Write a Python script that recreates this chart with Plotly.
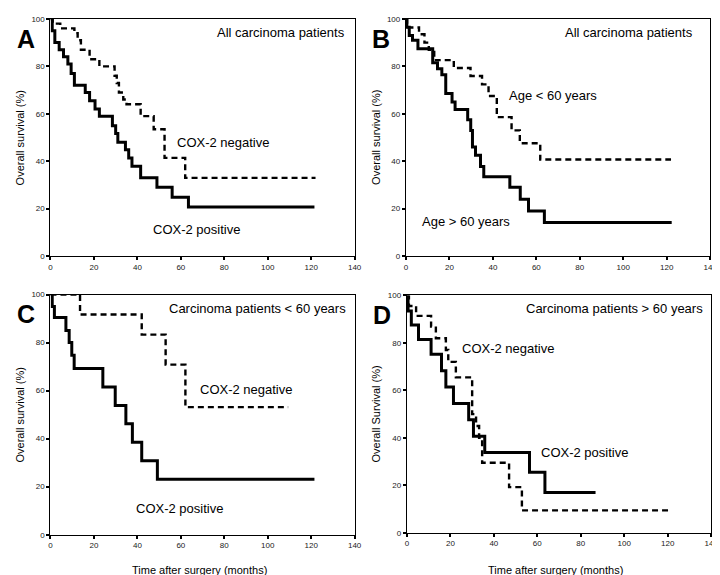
import plotly.graph_objects as go

# ---------------- data (months, overall survival %) ----------------
A_neg_t = [0, 1, 4.5, 11, 12.5, 14, 18, 22.5, 29.5, 30.5, 31.5, 33.5, 35, 41.5, 47.5, 52.5, 62, 122]
A_neg_s = [100, 98, 96, 94, 91, 87, 83, 80, 76, 73, 69, 66, 64, 59, 53.5, 41.4, 33, 33]
A_pos_t = [0, 0.8, 2, 4, 6, 8, 9.5, 11, 16, 18, 20.5, 22.5, 28.5, 30, 31, 34.5, 36, 37.5, 41.5, 49, 56, 63.5, 121.5]
A_pos_s = [100, 95, 90, 87, 84, 81, 77, 72, 69, 65.5, 62, 59, 55, 51.7, 48, 44.8, 41.4, 37.9, 33, 29, 24.8, 20.7, 20.7]

B_young_t = [0, 0.5, 6, 8.5, 10.5, 13, 22, 29.7, 35, 38, 41.8, 48.6, 52.4, 61.8, 122]
B_young_s = [100, 96.4, 93.5, 90, 87, 82.6, 79.3, 75.9, 72.4, 67.5, 58.6, 53, 47.6, 40.7, 40.7]
B_old_t = [0, 0.4, 1.5, 3, 5.5, 12.3, 14.5, 16.5, 18.3, 21.2, 22.6, 28.4, 29.8, 30.6, 32, 34.3, 35.8, 47.8, 52.6, 56.4, 63.7, 122.3]
B_old_s = [100, 96.5, 93, 91, 87.4, 81.5, 79, 76.5, 68.5, 65, 61.8, 57.5, 53, 46, 42.5, 37.8, 33.5, 29, 24, 19, 14.2, 14.2]

C_neg_t = [0, 13.6, 42, 53, 62.1, 109.4]
C_neg_s = [100, 91.7, 83.3, 70.8, 53.1, 53.1]
C_pos_t = [0, 0.8, 1.8, 7.1, 8.6, 9.8, 10.9, 24.1, 29.8, 34.7, 37.7, 42, 49.2, 121.5]
C_pos_s = [100, 95, 90.4, 85, 80, 74.7, 69.2, 61.5, 53.8, 46.2, 38.5, 30.8, 23.1, 23.1]

D_neg_t = [0, 0.9, 4.2, 11.1, 13.3, 17.9, 19, 22.5, 30, 31.8, 33.2, 34.6, 47, 52.9, 120.3]
D_neg_s = [100, 95.6, 91.4, 86.9, 82, 77, 72, 65.5, 50, 45, 40, 29.5, 19.2, 9.4, 9.4]
D_pos_t = [0, 0.5, 2, 5.3, 11.1, 15.9, 17.9, 21.4, 28.4, 30.6, 35.8, 56.4, 63.5, 86.8]
D_pos_s = [100, 93.5, 87.6, 81.4, 75.2, 68.3, 61.4, 54.5, 47.6, 40.7, 33.8, 25.5, 17, 17]

x_ticks = [0, 20, 40, 60, 80, 100, 120, 140]
y_ticks = [0, 20, 40, 60, 80, 100]

panel_letters = ["A", "B", "C", "D"]
panel_titles = ["All carcinoma patients", "All carcinoma patients",
                "Carcinoma patients < 60 years", "Carcinoma patients > 60 years"]
y_titles = ["Overall survival (%)", "Overall survival (%)",
            "Overall survival (%)", "Overall Survival (%)"]
x_title = "Time after surgery (months)"

# ---------------- layout geometry (pixels) ----------------
W, H = 720, 575
panels = [  # x0, x1, ytop, ybottom
    (41, 349, 7, 248),
    (401, 709, 7, 248),
    (41, 349, 287, 531),
    (402, 710, 288, 529),
]

FONT = "Liberation Sans, Arial, sans-serif"

fig = go.Figure()

series = [
    [(A_neg_t, A_neg_s, "dash"), (A_pos_t, A_pos_s, "solid")],
    [(B_young_t, B_young_s, "dash"), (B_old_t, B_old_s, "solid")],
    [(C_neg_t, C_neg_s, "dash"), (C_pos_t, C_pos_s, "solid")],
    [(D_neg_t, D_neg_s, "dash"), (D_pos_t, D_pos_s, "solid")],
]

for i, pair in enumerate(series):
    xa = "x" if i == 0 else f"x{i+1}"
    ya = "y" if i == 0 else f"y{i+1}"
    for t, s, style in pair:
        if style == "dash":
            line = dict(color="black", width=2.4, dash="6px,4px", shape="hv")
        else:
            line = dict(color="black", width=3, shape="hv")
        fig.add_trace(go.Scatter(x=t, y=s, mode="lines", line=line,
                                 xaxis=xa, yaxis=ya, showlegend=False,
                                 hoverinfo="skip"))

annotations = []
layout = {}
for i, (x0, x1, yt, yb) in enumerate(panels):
    sfx = "" if i == 0 else str(i + 1)
    xd = [x0 / W, x1 / W]
    yd = [1 - yb / H, 1 - yt / H]
    axis_common = dict(showline=True, linecolor="black", linewidth=1.3, mirror=True,
                       ticks="outside", ticklen=3, tickwidth=2, tickcolor="black",
                       showgrid=False, zeroline=False,
                       tickfont=dict(family=FONT, size=8, color="#222"))
    layout["xaxis" + sfx] = dict(domain=xd, range=[0, 140], tickvals=x_ticks,
                                 anchor="y" + sfx, **axis_common)
    layout["yaxis" + sfx] = dict(domain=yd, range=[0, 100], tickvals=y_ticks,
                                 anchor="x" + sfx, **axis_common)

    # panel letter
    annotations.append(dict(text="<b>%s</b>" % panel_letters[i], x=(x0 - 25) / W,
                            y=1 - (yt + 20) / H, xref="paper", yref="paper",
                            showarrow=False, xanchor="center", yanchor="middle",
                            font=dict(family=FONT, size=25, color="black")))
    # y axis title
    annotations.append(dict(text=y_titles[i], x=(x0 - 31) / W, y=1 - ((yt + yb) / 2) / H,
                            xref="paper", yref="paper", showarrow=False, textangle=-90,
                            xanchor="center", yanchor="middle",
                            font=dict(family=FONT, size=11, color="black")))

# panel titles
title_pos = [(274, 21), (627, 21), (251, 301), (612, 301)]
for i, (cx, cy) in enumerate(title_pos):
    annotations.append(dict(text=panel_titles[i], x=cx / W, y=1 - cy / H,
                            xref="paper", yref="paper", showarrow=False,
                            xanchor="center", yanchor="middle",
                            font=dict(family=FONT, size=13, color="black")))

# curve labels
curve_labels = [
    ("COX-2 negative", 216, 133), ("COX-2 positive", 189, 221),
    ("Age < 60 years", 550, 85), ("Age > 60 years", 462, 213),
    ("COX-2 negative", 239, 384), ("COX-2 positive", 172, 504),
    ("COX-2 negative", 505, 342), ("COX-2 positive", 582, 448),
]
for txt, cx, cy in curve_labels:
    annotations.append(dict(text=txt, x=cx / W, y=1 - cy / H, xref="paper", yref="paper",
                            showarrow=False, xanchor="center", yanchor="middle",
                            font=dict(family=FONT, size=13, color="black")))

# x axis titles (bottom panels)
for cx in (192, 552):
    annotations.append(dict(text=x_title, x=cx / W, y=1 - 567 / H, xref="paper",
                            yref="paper", showarrow=False, xanchor="center",
                            yanchor="middle",
                            font=dict(family=FONT, size=11, color="black")))

fig.update_layout(width=W, height=H, margin=dict(l=0, r=0, t=0, b=0),
                  paper_bgcolor="white", plot_bgcolor="white",
                  annotations=annotations, **layout)

fig.write_html("out.html")
